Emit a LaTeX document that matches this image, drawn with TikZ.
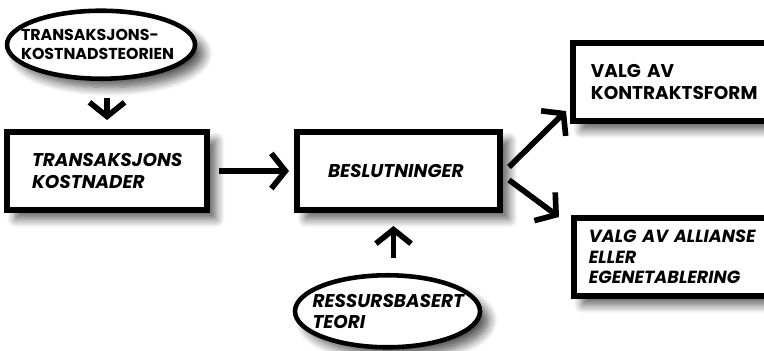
\documentclass[tikz,border=0pt]{standalone}
\usepackage{fontspec}
\setmainfont{Poppins}
\usetikzlibrary{positioning,shapes.geometric,arrows.meta,shadows.blur}

\begin{document}
\begin{tikzpicture}[
    >={Straight Barb[length=8pt,width=20pt]},
    pil/.style={->, draw, line width=3.2pt},
    skygge/.style={blur shadow={shadow xshift=5pt, shadow yshift=-5pt, shadow opacity=65, shadow blur steps=10, shadow blur radius=5pt}},
    boks/.style={draw, line width=3.4pt, fill=white, skygge, minimum height=1.56cm,
        inner xsep=0.5cm, text width=3cm},
    teori/.style={ellipse, draw, line width=2.6pt, fill=white, skygge,
        inner xsep=-1cm, inner ysep=-0.3cm},
    every node/.style={align=left, font=\bfseries\itshape\fontsize{10.5}{12}\selectfont}]

    \useasboundingbox (0,0) rectangle (15.28,-7.02);

    \node [boks, inner xsep=0.62cm, text width=2.82cm] (besl) at (7.97,-3.42) {BESLUTNINGER};
    \node [boks, left=1.68cm of besl] (tk) {TRANSAKSJONS\\KOSTNADER};
        \node [teori, minimum width=3.76cm, minimum height=1.36cm, text width=3.2cm,
            font=\bfseries\fontsize{9}{11}\selectfont, above=0.96cm of tk, xshift=-0.12cm] (tkd)
            {TRANSAKSJONS-\\KOSTNADSTEORIEN};
    \node [teori, minimum width=3.7cm, minimum height=1.44cm, text width=3cm,
        below=1.2cm of besl, xshift=-0.22cm] (ressurs) {RESSURSBASERT\\TEORI};
    \node [boks, inner xsep=0.36cm, text width=3.2cm, font=\bfseries\fontsize{10.5}{12}\selectfont,
        above right=0.1cm and 1.34cm of besl] (kontrakt) {VALG AV\\KONTRAKTSFORM};
    \node [boks, inner xsep=0.3cm, text width=3.32cm, font=\bfseries\itshape\fontsize{10}{11.5}\selectfont,
        below right=0.04cm and 1.36cm of besl] (allianse) {\mbox{VALG AV ALLIANSE}\\ELLER\\EGENETABLERING};

    % piler
    \draw [pil, shorten <=0.34cm, shorten >=0.18cm] (tkd.south -| tk.north) -- (tk.north);
    \draw [pil, shorten <=0.18cm, shorten >=0.1cm] (tk.east) -- (besl.west);
    \draw [pil, shorten <=0.3cm, shorten >=0.26cm] ([xshift=-0.1cm]ressurs.north -| besl.south) -- ([xshift=-0.1cm]besl.south);
    \draw [pil] ([shift={(0.12cm,0.08cm)}]besl.east) -- ([shift={(-0.08cm,0.26cm)}]kontrakt.south west);
    \draw [pil] ([shift={(0.12cm,-0.18cm)}]besl.east) -- ([shift={(-0.24cm,-0.04cm)}]allianse.north west);

\end{tikzpicture}
\end{document}
